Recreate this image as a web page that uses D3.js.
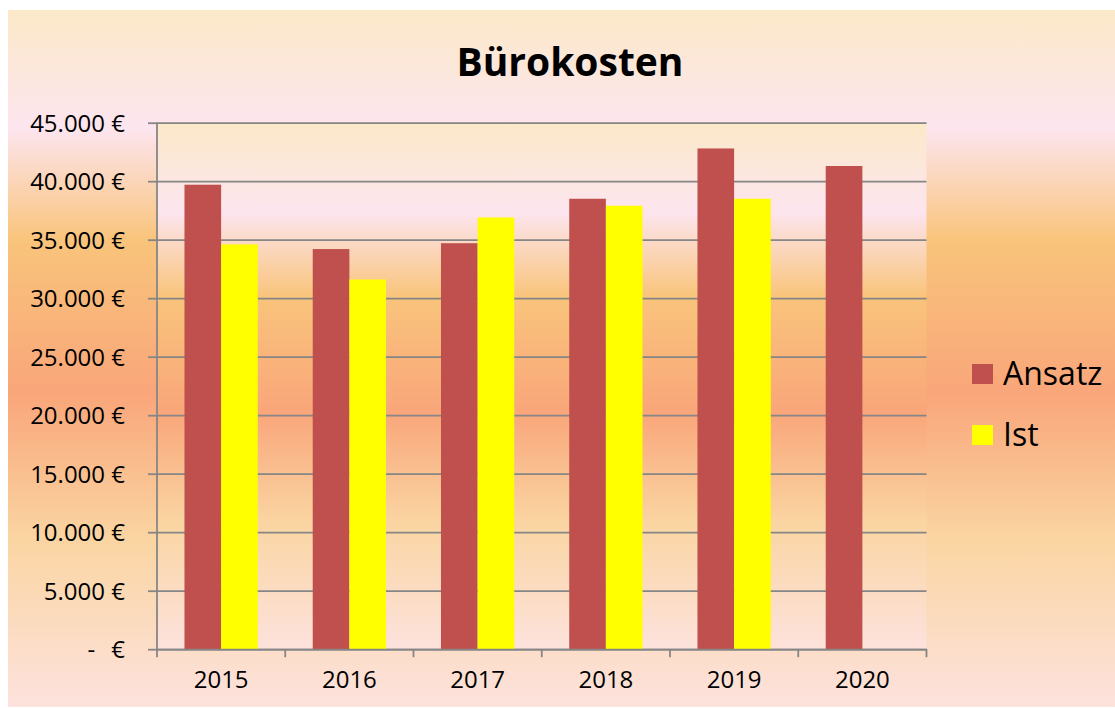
<!DOCTYPE html>
<html>
<head>
<meta charset="utf-8">
<script src="https://cdn.jsdelivr.net/npm/d3@7"></script>
<style>
  body { margin: 0; background: #fff; }
  svg text { font-family: "Open Sans", Lato, sans-serif; fill: #000; }
</style>
</head>
<body>
<div class="chart"></div>
<script>
const years = ["2015", "2016", "2017", "2018", "2019", "2020"];
const ansatz = [39700, 34200, 34700, 38500, 42800, 41300];
const ist = [34600, 31600, 36900, 37900, 38500, null];
const seriesNames = ["Ansatz", "Ist"];
const seriesColors = ["#c0504d", "#ffff00"];
const yTicks = [0, 5000, 10000, 15000, 20000, 25000, 30000, 35000, 40000, 45000];

const totalWidth = 1115, totalHeight = 708;
const plot = {left: 157, right: 926.5, top: 122.7, bottom: 649.2};

const de = d3.formatLocale({decimal: ",", thousands: ".", grouping: [3], currency: ["", " €"]});
const fmt = de.format(",.0f");

const svg = d3.select('.chart').append('svg')
  .attr('width', totalWidth).attr('height', totalHeight);

// background gradient (same stops for chart area and plot area)
const grad = svg.append('defs').append('linearGradient')
  .attr('id', 'bg').attr('x1', 0).attr('y1', 0).attr('x2', 0).attr('y2', 1);
[[0, "#fbe9c8"], [0.17, "#fde5ef"], [0.33, "#f9c47b"], [0.55, "#f9a67a"], [0.76, "#fad5a2"], [1, "#fde2dd"]]
  .forEach(([o, c]) => grad.append('stop').attr('offset', o).attr('stop-color', c));

svg.append('rect')
  .attr('x', 8).attr('y', 10).attr('width', totalWidth - 8).attr('height', 697)
  .attr('fill', 'url(#bg)');

svg.append('rect')
  .attr('x', plot.left).attr('y', plot.top)
  .attr('width', plot.right - plot.left).attr('height', plot.bottom - plot.top)
  .attr('fill', 'url(#bg)');

const x0 = d3.scaleBand().domain(years).range([plot.left, plot.right]).padding(0);
const x1 = d3.scaleBand().domain(seriesNames).range([0, x0.bandwidth()]).paddingInner(0).paddingOuter(0.75);
const y = d3.scaleLinear().domain([0, 45000]).range([plot.bottom, plot.top]);

// gridlines + y axis
svg.append('g')
  .attr('transform', `translate(${plot.left},0)`)
  .call(d3.axisLeft(y).tickValues(yTicks).tickSize(9).tickPadding(23)
    .tickFormat(d => d === 0 ? "-\u2002\u2009€" : fmt(d) + " €"))
  .call(g => g.select('.domain').remove())
  .call(g => g.selectAll('.tick line').attr('stroke', '#868686').attr('stroke-width', 1.8))
  .call(g => g.selectAll('.tick line').clone()
    .attr('x1', 0).attr('x2', plot.right - plot.left))
  .call(g => g.selectAll('.tick text')
    .attr('font-size', '24px').attr('dy', '0.36em').style('white-space', 'pre'));

// bars
const rows = years.map((yr, i) => ({year: yr, values: [ansatz[i], ist[i]]}));
svg.append('g')
  .selectAll('g')
  .data(rows)
  .join('g')
    .attr('transform', d => `translate(${x0(d.year)},0)`)
  .selectAll('rect')
  .data(d => d.values.map((v, k) => ({key: seriesNames[k], value: v, k})).filter(d => d.value != null))
  .join('rect')
    .attr('x', d => x1(d.key))
    .attr('y', d => y(d.value))
    .attr('width', x1.bandwidth())
    .attr('height', d => y(0) - y(d.value))
    .attr('fill', d => seriesColors[d.k]);

// left axis line
svg.append('line')
  .attr('x1', plot.left).attr('x2', plot.left)
  .attr('y1', plot.top).attr('y2', plot.bottom)
  .attr('stroke', '#868686').attr('stroke-width', 1.8);

// x axis
svg.append('g')
  .attr('transform', `translate(0,${plot.bottom})`)
  .call(d3.axisBottom(x0).tickSize(0).tickPadding(30))
  .call(g => g.select('.domain').attr('stroke', '#868686').attr('stroke-width', 1.8))
  .call(g => g.selectAll('.tick text').attr('font-size', '24px').attr('dy', '0.36em'));

svg.append('g')
  .selectAll('line')
  .data(years.map(d => x0(d)).concat([x0.range()[1]]))
  .join('line')
    .attr('x1', d => d).attr('x2', d => d)
    .attr('y1', plot.bottom).attr('y2', plot.bottom + 8)
    .attr('stroke', '#868686').attr('stroke-width', 1.8);

// title
svg.append('text')
  .attr('x', 570).attr('y', 76)
  .attr('text-anchor', 'middle')
  .attr('font-size', '39px').attr('font-weight', 'bold')
  .text('Bürokosten');

// legend
const legend = svg.append('g')
  .selectAll('g')
  .data(seriesNames)
  .join('g')
    .attr('transform', (d, i) => `translate(972,${364 + i * 61})`);
legend.append('rect')
  .attr('width', 21).attr('height', 20)
  .attr('fill', (d, i) => seriesColors[i]);
legend.append('text')
  .attr('x', 31).attr('y', 21)
  .attr('font-size', '32px')
  .text(d => d);
</script>
</body>
</html>
